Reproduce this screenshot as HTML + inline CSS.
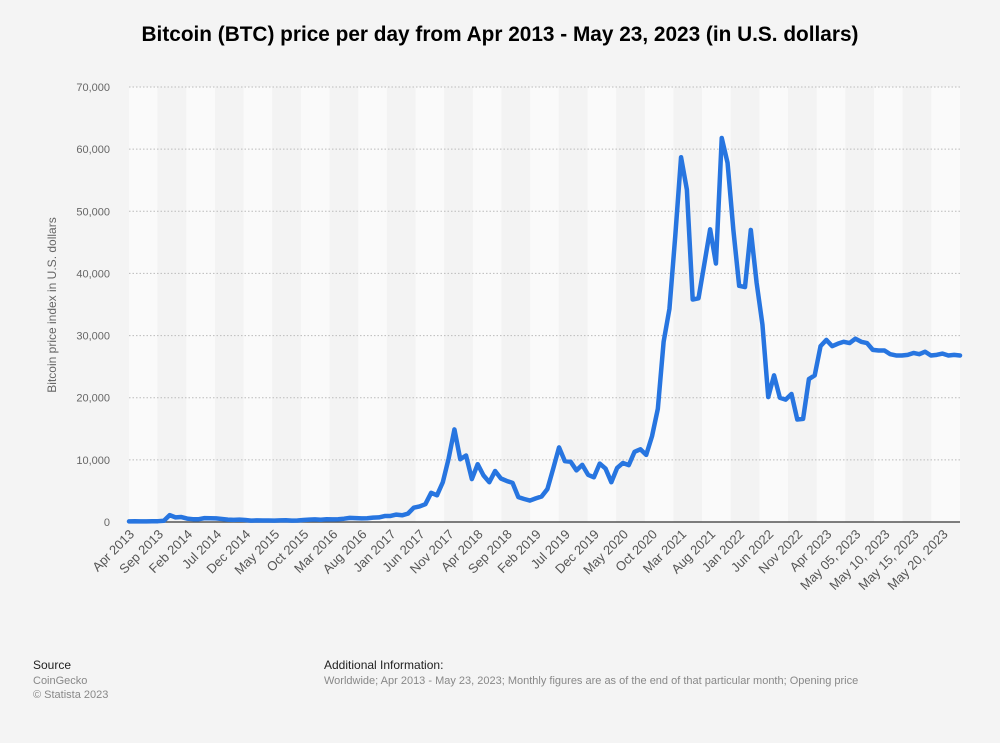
<!DOCTYPE html>
<html><head><meta charset="utf-8"><style>
body{margin:0;background:#f4f4f4;font-family:"Liberation Sans",sans-serif;}
#wrap{position:relative;width:1000px;height:743px;overflow:hidden;background:#f4f4f4}
.t{position:absolute;white-space:nowrap}
</style></head><body>
<div id="wrap">
<div class="t" style="left:0;width:1000px;text-align:center;top:23px;font-size:20.8px;font-weight:bold;color:#000">Bitcoin (BTC) price per day from Apr 2013 - May 23, 2023 (in U.S. dollars)</div>
<svg id="chart" width="1000" height="743" style="position:absolute;left:0;top:0"></svg>
<div class="t" style="left:33px;top:658px;font-size:12px;color:#222">Source</div>
<div class="t" style="left:33px;top:675px;font-size:11px;color:#888">CoinGecko</div>
<div class="t" style="left:33px;top:689px;font-size:11px;color:#888">© Statista 2023</div>
<div class="t" style="left:324px;top:658px;font-size:12px;color:#222">Additional Information:</div>
<div class="t" style="left:324px;top:675px;font-size:11px;color:#888">Worldwide; Apr 2013 - May 23, 2023; Monthly figures are as of the end of that particular month; Opening price</div>
</div>
<script>
const xLabels=["Apr 2013","Sep 2013","Feb 2014","Jul 2014","Dec 2014","May 2015","Oct 2015","Mar 2016","Aug 2016","Jan 2017","Jun 2017","Nov 2017","Apr 2018","Sep 2018","Feb 2019","Jul 2019","Dec 2019","May 2020","Oct 2020","Mar 2021","Aug 2021","Jan 2022","Jun 2022","Nov 2022","Apr 2023","May 05, 2023","May 10, 2023","May 15, 2023","May 20, 2023"];
const yTicks=[0,10000,20000,30000,40000,50000,60000,70000];
const monthly=[100,120,100,100,130,130,200,1100,750,
800,550,450,450,620,600,580,480,390,340,380,320,
220,255,245,235,230,260,285,230,235,315,380,430,
370,435,415,450,530,670,620,575,610,700,740,960,
970,1190,1080,1350,2300,2500,2870,4700,4300,6400,10200,14900,
10100,10700,6900,9300,7500,6400,8200,7000,6600,6300,4000,3700,
3450,3800,4100,5300,8600,12000,9800,9700,8300,9200,7600,7200,
9400,8600,6400,8700,9500,9150,11300,11700,10800,13800,18200,29000,
34300,46000,58700,53500,35800,36000,41500,47100,41600,61800,57800,47000,
38000,37800,47000,38500,31800,20100,23600,20000,19700,20600,16500,16600,
23000,23600,28300,29300];
const daily=[28300,28700,29000,28800,29500,29000,28800,27700,27600,27600,27000,26800,26800,26900,27200,27000,27400,26800,26900,27100,26800,26900,26800];
const values=monthly.concat(daily);

const svg=document.getElementById('chart');const NS="http://www.w3.org/2000/svg";
const L=129,R=960,T=87,B=522,yMax=70000;
const n=values.length;
const xPos=i=>L+i*(R-L)/(n-1);
const yPos=v=>B-(v/yMax)*(B-T);
function mk(tag,attrs,parent){const e=document.createElementNS(NS,tag);for(const k in attrs)e.setAttribute(k,attrs[k]);(parent||svg).appendChild(e);return e;}
const bw=(R-L)/xLabels.length;
xLabels.forEach((lab,i)=>{
  const r=mk('rect',{x:L+i*bw,y:T,width:bw,height:B-T,fill:i%2?'#f3f3f3':'#fafafa'});
  
  
  const tx=xPos(i*5);
  const t=mk('text',{x:tx+6,y:B+13,'text-anchor':'end','font-size':'13','fill':'#555','transform':`rotate(-45 ${tx+6} ${B+13})`,'font-family':'Liberation Sans, sans-serif'});
  t.textContent=lab;
  
  
});
yTicks.forEach(v=>{
  if(v>0){const g=mk('line',{x1:L,x2:R,y1:yPos(v),y2:yPos(v),stroke:'#bbb','stroke-dasharray':'1.5,2'});
  
  }
  const t=mk('text',{x:110,y:yPos(v)+4,'text-anchor':'end','font-size':'11','fill':'#666','font-family':'Liberation Sans, sans-serif'});
  t.textContent=v.toLocaleString('en-US');
  
  
});
const ax=mk('line',{x1:L,x2:R,y1:B,y2:B,stroke:'#555','stroke-width':'1.5'});


const yt=mk('text',{x:56,y:305,'text-anchor':'middle','font-size':'12','fill':'#666','transform':'rotate(-90 56 305)','font-family':'Liberation Sans, sans-serif'});
yt.textContent='Bitcoin price index in U.S. dollars';


const d=values.map((v,i)=>(i?'L':'M')+xPos(i).toFixed(2)+','+yPos(v).toFixed(2)).join('');
const p=mk('path',{d:d,fill:'none',stroke:'#2775e0','stroke-width':'4.5','stroke-linejoin':'round','stroke-linecap':'round'});


</script>
</body></html>
